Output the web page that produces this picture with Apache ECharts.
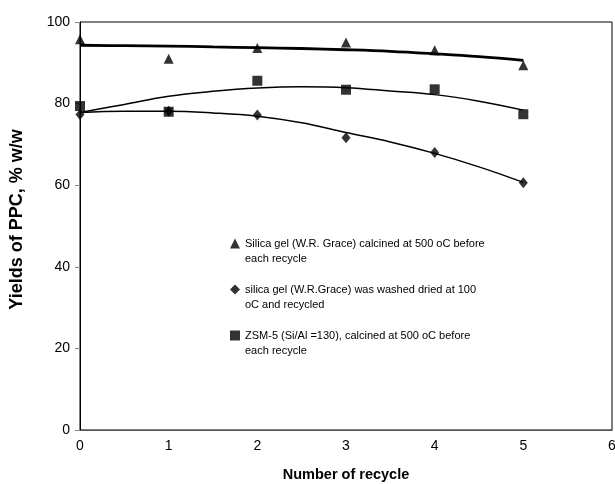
<!DOCTYPE html>
<html>
<head>
<meta charset="utf-8">
<script src="https://cdn.jsdelivr.net/npm/echarts@6/dist/echarts.min.js"></script>
<style>html,body{margin:0;padding:0;background:#fff;}#c{width:615px;height:484px;}</style>
</head>
<body>
<div id="c"></div>
<script>
const recycles = [0, 1, 2, 3, 4, 5];
const xTicks = [0, 1, 2, 3, 4, 5, 6];
const yTicks = [0, 20, 40, 60, 80, 100];

const nameA = 'Silica gel (W.R. Grace) calcined at 500 oC before\neach recycle';
const nameB = 'silica gel (W.R.Grace) was washed dried at 100\noC and recycled';
const nameC = 'ZSM-5 (Si/Al =130), calcined at 500 oC before\neach recycle';

const silicaCalcined = [95.8, 91.0, 93.6, 95.0, 93.1, 89.4];
const silicaWashed = [77.3, 78.1, 77.2, 71.6, 68.0, 60.6];
const zsm5 = [79.4, 78.0, 85.6, 83.4, 83.5, 77.4];

// trend curves, every half recycle
const trendX = [0, 0.5, 1, 1.5, 2, 2.5, 3, 3.5, 4, 4.5, 5];
const trendCalcined = [94.3, 94.2, 94.1, 93.9, 93.7, 93.5, 93.2, 92.8, 92.2, 91.5, 90.6];
const trendWashed = [77.8, 78.1, 78.1, 77.7, 76.9, 75.3, 72.9, 70.6, 67.8, 64.5, 60.7];
const trendZsm5 = [77.8, 79.8, 81.8, 83.0, 83.8, 84.1, 83.9, 83.1, 82.2, 80.6, 78.4];

const pairs = (xs, ys) => xs.map((x, i) => [x, ys[i]]);
const font = 'Liberation Sans, Arial, sans-serif';

const chart = echarts.init(document.getElementById('c'), null, {renderer: 'canvas'});
chart.setOption({
  animation: false,
  backgroundColor: '#fff',
  textStyle: {fontFamily: font, color: '#000'},
  grid: {left: 80, right: 3, top: 22, bottom: 54, show: true, borderColor: '#000', borderWidth: 1,
         containLabel: false, outerBoundsMode: 'none'},
  xAxis: {
    type: 'value', min: xTicks[0], max: xTicks[xTicks.length - 1], interval: 1,
    name: 'Number of recycle', nameLocation: 'middle', nameGap: 37,
    nameTextStyle: {fontSize: 14.5, fontWeight: 'bold', color: '#000', fontFamily: font},
    axisLine: {show: true, lineStyle: {color: '#555', width: 1}},
    axisTick: {show: false},
    splitLine: {show: false},
    axisLabel: {fontSize: 14, color: '#000', margin: 9, fontFamily: font}
  },
  yAxis: {
    type: 'value', min: yTicks[0], max: yTicks[yTicks.length - 1], interval: 20,
    name: 'Yields of PPC, % w/w', nameLocation: 'middle', nameGap: 54,
    nameTextStyle: {fontSize: 18, fontWeight: 'bold', color: '#000', fontFamily: font, padding: [0, 0, 0, 13]},
    axisLine: {show: true, lineStyle: {color: '#000', width: 1}},
    axisTick: {show: true, length: 5, lineStyle: {color: '#888'}},
    splitLine: {show: false},
    axisLabel: {fontSize: 14, color: '#000', margin: 10, fontFamily: font}
  },
  legend: {
    orient: 'vertical', left: 225, top: 218, itemGap: 5, itemWidth: 10, itemHeight: 10,
    textStyle: {fontSize: 11, color: '#000', fontFamily: font,
      rich: {
        e: {fontSize: 11, lineHeight: 15},
        a: {fontSize: 11, lineHeight: 15, fontFamily: font, color: '#000'}
      }},
    formatter: function (name) {
      const parts = name.split('\n');
      return '{e| }\n{a|' + parts[0] + '}\n{a|' + parts[1] + '}';
    },
    data: [
      {name: nameA, icon: 'triangle'},
      {name: nameB, icon: 'diamond'},
      {name: nameC, icon: 'rect'}
    ]
  },
  series: [
    {name: 'trendA', type: 'line', data: pairs(trendX, trendCalcined), smooth: 0.4, symbol: 'none',
     lineStyle: {color: '#000', width: 2.8}, silent: true},
    {name: 'trendB', type: 'line', data: pairs(trendX, trendWashed), smooth: 0.4, symbol: 'none',
     lineStyle: {color: '#000', width: 1.5}, silent: true},
    {name: 'trendC', type: 'line', data: pairs(trendX, trendZsm5), smooth: 0.4, symbol: 'none',
     lineStyle: {color: '#000', width: 1.5}, silent: true},
    {name: nameA, type: 'scatter', data: pairs(recycles, silicaCalcined), symbol: 'triangle', symbolSize: 10,
     itemStyle: {color: '#000'}},
    {name: nameB, type: 'scatter', data: pairs(recycles, silicaWashed), symbol: 'diamond', symbolSize: [9, 11],
     itemStyle: {color: '#000'}},
    {name: nameC, type: 'scatter', data: pairs(recycles, zsm5), symbol: 'rect', symbolSize: 10,
     itemStyle: {color: '#000'}}
  ]
});
</script>
</body>
</html>
